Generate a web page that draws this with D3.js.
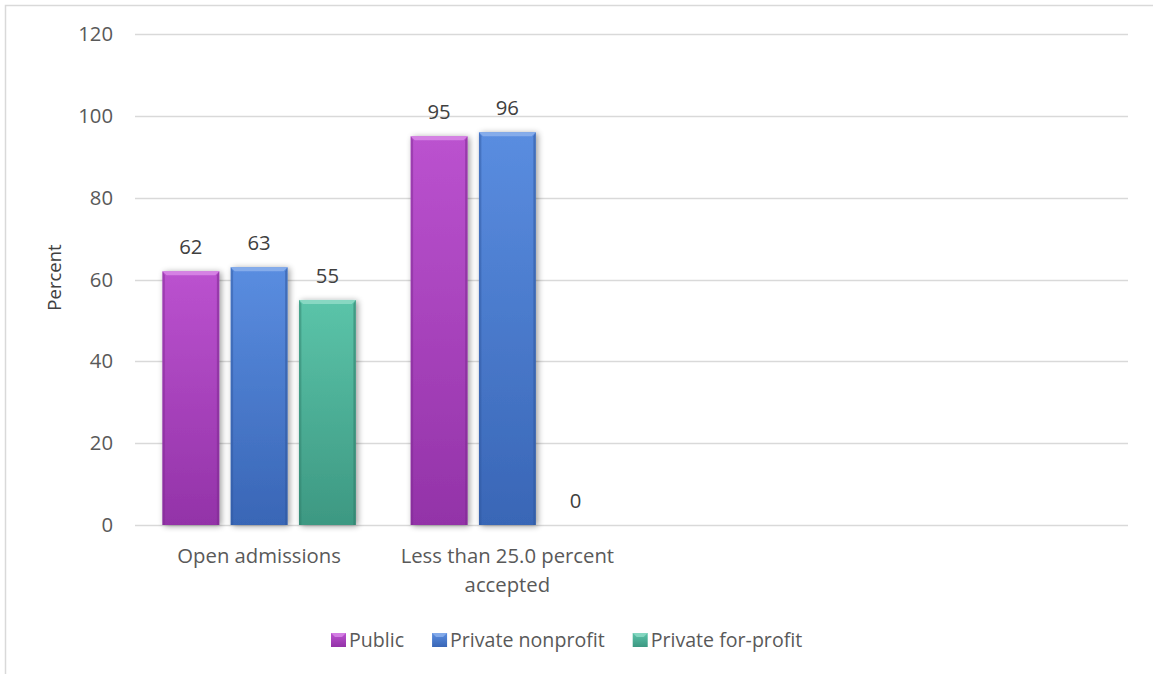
<!DOCTYPE html>
<html>
<head>
<meta charset="utf-8">
<script src="https://cdn.jsdelivr.net/npm/d3@7"></script>
<style>
  html, body { margin: 0; padding: 0; background: #fff; }
  svg { display: block; font-family: "Open Sans", sans-serif; }
</style>
</head>
<body>
<svg id="chart" width="1153" height="674"></svg>
<script>
// Category labels (the last two slots are empty in the layout)
const categories = ["Open admissions", "Less than 25.0 percent accepted", "", ""];
const seriesNames = ["Public", "Private nonprofit", "Private for-profit"];
const publicValues = [62, 95];
const nonprofitValues = [63, 96];
const forprofitValues = [55, 0];
const yTicks = [0, 20, 40, 60, 80, 100, 120];

const seriesValues = [publicValues, nonprofitValues, forprofitValues];
const colors = [
  { top: "#bb52cf", bottom: "#9333a8", edge: "#7d2a90", light: "#d98ae8" },
  { top: "#5a8de0", bottom: "#3966b6", edge: "#2f579d", light: "#8db2ec" },
  { top: "#5bc4a9", bottom: "#3d9882", edge: "#2f7c69", light: "#8fdcc7" }
];
const FS = 20.3;

const svg = d3.select("#chart");
const W = 1153, H = 674;
const margin = { left: 135, right: 25, top: 34, bottom: 149 };
const plotW = W - margin.left - margin.right;
const plotH = H - margin.top - margin.bottom;

const defs = svg.append("defs");
colors.forEach((c, i) => {
  const g = defs.append("linearGradient").attr("id", "grad" + i)
    .attr("x1", 0).attr("y1", 0).attr("x2", 0).attr("y2", 1);
  g.append("stop").attr("offset", "0%").attr("stop-color", c.top);
  g.append("stop").attr("offset", "100%").attr("stop-color", c.bottom);
});
const shadow = defs.append("filter").attr("id", "shadow")
  .attr("x", "-30%").attr("y", "-10%").attr("width", "160%").attr("height", "120%");
shadow.append("feGaussianBlur").attr("in", "SourceAlpha").attr("stdDeviation", 3).attr("result", "b");
shadow.append("feOffset").attr("in", "b").attr("dx", 1.5).attr("dy", 1).attr("result", "o");
shadow.append("feComponentTransfer").attr("in", "o").attr("result", "s")
  .append("feFuncA").attr("type", "linear").attr("slope", 0.4);
const merge = shadow.append("feMerge");
merge.append("feMergeNode").attr("in", "s");
merge.append("feMergeNode").attr("in", "SourceGraphic");

// Chart frame
svg.append("rect").attr("x", 5.5).attr("y", 5.5).attr("width", W + 20).attr("height", H + 20)
  .attr("fill", "#fff").attr("stroke", "#d9d9d9").attr("stroke-width", 1.5);

const g = svg.append("g").attr("transform", `translate(${margin.left},${margin.top})`);

const x = d3.scaleBand().domain(d3.range(categories.length)).range([0, plotW]);
const y = d3.scaleLinear().domain([0, 120]).range([plotH, 0]);

// Gridlines
g.append("g").selectAll("line").data(yTicks).join("line")
  .attr("x1", 0).attr("x2", plotW)
  .attr("y1", d => Math.round(y(d)) + 0.5).attr("y2", d => Math.round(y(d)) + 0.5)
  .attr("stroke", "#d9d9d9").attr("stroke-width", 1.3);

// Y axis labels
const yAxis = g.append("g").call(d3.axisLeft(y).tickValues(yTicks).tickSize(0).tickPadding(22));
yAxis.select(".domain").remove();
yAxis.selectAll("text").attr("font-size", FS).attr("fill", "#595959")
  .attr("font-family", "Open Sans, sans-serif");

// Y axis title
svg.append("text").attr("transform", `translate(61,${margin.top + plotH / 2 - 2}) rotate(-90)`)
  .attr("text-anchor", "middle").attr("font-size", 18.5).attr("fill", "#404040").text("Percent");

// Bar geometry within a band
const barW = x.bandwidth() * 0.229;
const gap = x.bandwidth() * 0.046;
const groupW = barW * 3 + gap * 2;
const xs = d3.scaleBand().domain(d3.range(3)).range([0, groupW]).paddingInner(gap / (barW + gap));

const bars = [];
seriesValues.forEach((vals, s) => {
  vals.forEach((v, c) => bars.push({ s, c, v }));
});

const barG = g.append("g");
bars.forEach(b => {
  const bx = x(b.c) + (x.bandwidth() - groupW) / 2 + xs(b.s);
  const by = y(b.v);
  const bh = plotH - by;
  const col = colors[b.s];
  if (bh > 0) {
    const bg = barG.append("g");
    bg.append("rect").attr("x", bx).attr("y", by).attr("width", xs.bandwidth()).attr("height", bh)
      .attr("fill", `url(#grad${b.s})`).attr("filter", "url(#shadow)");
    // bevel: lighter top edge, darker sides
    const bev = 4, w = xs.bandwidth();
    bg.append("path")
      .attr("d", `M${bx},${by}L${bx + w},${by}L${bx + w - bev},${by + bev}L${bx + bev},${by + bev}Z`)
      .attr("fill", col.light).attr("opacity", 0.85);
    bg.append("path")
      .attr("d", `M${bx},${by}L${bx + bev * 0.6},${by + bev}L${bx + bev * 0.6},${by + bh}L${bx},${by + bh}Z`)
      .attr("fill", col.edge).attr("opacity", 0.45);
    bg.append("path")
      .attr("d", `M${bx + w},${by}L${bx + w - bev * 0.6},${by + bev}L${bx + w - bev * 0.6},${by + bh}L${bx + w},${by + bh}Z`)
      .attr("fill", col.edge).attr("opacity", 0.55);
  }
  // value label
  g.append("text").attr("x", bx + xs.bandwidth() / 2).attr("y", by - 17)
    .attr("text-anchor", "middle").attr("font-size", FS).attr("fill", "#404040").text(b.v);
});

// X axis labels with wrapping to band width
const xAxis = g.append("g").attr("transform", `translate(0,${plotH})`);
categories.forEach((label, i) => {
  if (!label) return;
  const cx = x(i) + x.bandwidth() / 2;
  const t = xAxis.append("text").attr("text-anchor", "middle")
    .attr("font-size", FS).attr("fill", "#595959")
    .attr("x", cx).attr("y", 38);
  const words = label.split(" ");
  let line = [], tspan = t.append("tspan").attr("x", cx).attr("dy", 0);
  words.forEach(w => {
    line.push(w);
    tspan.text(line.join(" "));
    if (tspan.node().getComputedTextLength() > x.bandwidth() - 10 && line.length > 1) {
      line.pop();
      tspan.text(line.join(" "));
      line = [w];
      tspan = t.append("tspan").attr("x", cx).attr("dy", 29).text(w);
    }
  });
});

// Legend
const legend = svg.append("g").attr("transform", "translate(0,640)");
let lx = 331;
seriesNames.forEach((name, i) => {
  const item = legend.append("g").attr("transform", `translate(${lx},0)`);
  item.append("rect").attr("x", 0).attr("y", -7).attr("width", 15).attr("height", 14)
    .attr("fill", `url(#grad${i})`);
  item.append("path").attr("d", "M0,-7L15,-7L11,-3L4,-3Z").attr("fill", colors[i].light).attr("opacity", 0.8);
  const txt = item.append("text").attr("x", 18).attr("y", 7).attr("font-size", 19.6)
    .attr("fill", "#595959").text(name);
  lx += 18 + txt.node().getComputedTextLength() + 28;
});
</script>
</body>
</html>
